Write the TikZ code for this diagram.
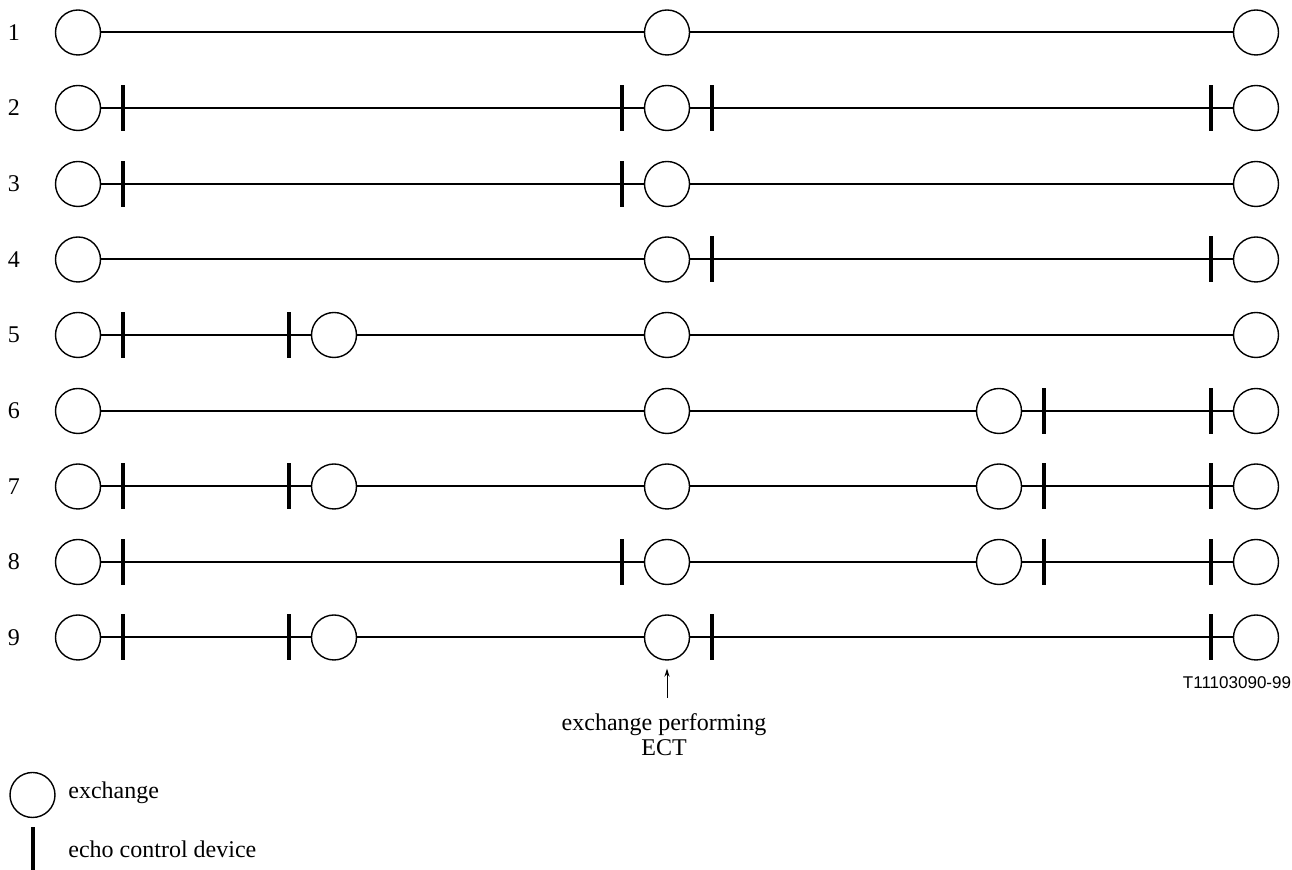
\documentclass[tikz,border=0pt]{standalone}
\usepackage{fontspec}
\setmainfont{Liberation Serif}
\newfontfamily\arialfont{Liberation Sans}
\usetikzlibrary{arrows.meta}
\begin{document}
\begin{tikzpicture}[x=0.5pt,y=-0.5pt,
  exch/.style={circle,draw,line width=0.7pt,minimum size=22.5pt,inner sep=0pt},
  ecd/.style={rectangle,fill=black,minimum width=2pt,minimum height=23pt,inner sep=0pt},
  link/.style={line width=1pt},
  lbl/.style={font=\fontsize{12}{12.5}\selectfont,inner sep=0pt}]
\useasboundingbox (0,0) rectangle (1292,870);
% ---- row 1
\node[lbl] (n1) at (14,32.5) {1};
\node[exch] (c1a) at (78,32.5) {};
\node[exch] (c1c) at (667,32.5) {};
\node[exch] (c1e) at (1256,32.5) {};
\draw[link] (c1a) -- (c1c);
\draw[link] (c1c) -- (c1e);
% ---- row 2
\node[lbl] (n2) at (14,108) {2};
\node[exch] (c2a) at (78,108) {};
\node[exch] (c2c) at (667,108) {};
\node[exch] (c2e) at (1256,108) {};
\node[ecd] (t2a) at (123,108) {};
\node[ecd] (t2b) at (622,108) {};
\node[ecd] (t2c) at (712,108) {};
\node[ecd] (t2d) at (1211,108) {};
\draw[link] (c2a) -- (c2c);
\draw[link] (c2c) -- (c2e);
% ---- row 3
\node[lbl] (n3) at (14,184) {3};
\node[exch] (c3a) at (78,184) {};
\node[exch] (c3c) at (667,184) {};
\node[exch] (c3e) at (1256,184) {};
\node[ecd] (t3a) at (123,184) {};
\node[ecd] (t3b) at (622,184) {};
\draw[link] (c3a) -- (c3c);
\draw[link] (c3c) -- (c3e);
% ---- row 4
\node[lbl] (n4) at (14,259.5) {4};
\node[exch] (c4a) at (78,259.5) {};
\node[exch] (c4c) at (667,259.5) {};
\node[exch] (c4e) at (1256,259.5) {};
\node[ecd] (t4c) at (712,259.5) {};
\node[ecd] (t4d) at (1211,259.5) {};
\draw[link] (c4a) -- (c4c);
\draw[link] (c4c) -- (c4e);
% ---- row 5
\node[lbl] (n5) at (14,335) {5};
\node[exch] (c5a) at (78,335) {};
\node[exch] (c5b) at (334,335) {};
\node[exch] (c5c) at (667,335) {};
\node[exch] (c5e) at (1256,335) {};
\node[ecd] (t5a) at (123,335) {};
\node[ecd] (t5b) at (289,335) {};
\draw[link] (c5a) -- (c5b);
\draw[link] (c5b) -- (c5c);
\draw[link] (c5c) -- (c5e);
% ---- row 6
\node[lbl] (n6) at (14,411) {6};
\node[exch] (c6a) at (78,411) {};
\node[exch] (c6c) at (667,411) {};
\node[exch] (c6d) at (999,411) {};
\node[exch] (c6e) at (1256,411) {};
\node[ecd] (t6c) at (1044,411) {};
\node[ecd] (t6d) at (1211,411) {};
\draw[link] (c6a) -- (c6c);
\draw[link] (c6c) -- (c6d);
\draw[link] (c6d) -- (c6e);
% ---- row 7
\node[lbl] (n7) at (14,486.5) {7};
\node[exch] (c7a) at (78,486.5) {};
\node[exch] (c7b) at (334,486.5) {};
\node[exch] (c7c) at (667,486.5) {};
\node[exch] (c7d) at (999,486.5) {};
\node[exch] (c7e) at (1256,486.5) {};
\node[ecd] (t7a) at (123,486.5) {};
\node[ecd] (t7b) at (289,486.5) {};
\node[ecd] (t7c) at (1044,486.5) {};
\node[ecd] (t7d) at (1211,486.5) {};
\draw[link] (c7a) -- (c7b);
\draw[link] (c7b) -- (c7c);
\draw[link] (c7c) -- (c7d);
\draw[link] (c7d) -- (c7e);
% ---- row 8
\node[lbl] (n8) at (14,562) {8};
\node[exch] (c8a) at (78,562) {};
\node[exch] (c8c) at (667,562) {};
\node[exch] (c8d) at (999,562) {};
\node[exch] (c8e) at (1256,562) {};
\node[ecd] (t8a) at (123,562) {};
\node[ecd] (t8b) at (622,562) {};
\node[ecd] (t8c) at (1044,562) {};
\node[ecd] (t8d) at (1211,562) {};
\draw[link] (c8a) -- (c8c);
\draw[link] (c8c) -- (c8d);
\draw[link] (c8d) -- (c8e);
% ---- row 9
\node[lbl] (n9) at (14,637.5) {9};
\node[exch] (c9a) at (78,637.5) {};
\node[exch] (c9b) at (334,637.5) {};
\node[exch] (c9c) at (667,637.5) {};
\node[exch] (c9e) at (1256,637.5) {};
\node[ecd] (t9a) at (123,637.5) {};
\node[ecd] (t9b) at (289,637.5) {};
\node[ecd] (t9c) at (712,637.5) {};
\node[ecd] (t9d) at (1211,637.5) {};
\draw[link] (c9a) -- (c9b);
\draw[link] (c9b) -- (c9c);
\draw[link] (c9c) -- (c9e);
% ---- annotation
\node[font=\arialfont\fontsize{8.5}{10}\selectfont,inner sep=0pt] (code) at (1237,683) {T11103090-99};
\node[lbl,align=center] (ect) at (664,734.5) {exchange performing\\ECT};
\coordinate (arrtail) at (667,698);
\draw[line width=0.5pt,-{Stealth[length=4pt,width=2.6pt]}] (arrtail) -- (c9c.south) [shorten >=4pt];
% ---- legend
\node[exch] (legc) at (32.5,795) {};
\node[lbl,anchor=west] (legct) at (68,793) {exchange};
\node[ecd,minimum height=21.5pt] (legt) at (32.5,848.5) {};
\node[lbl,anchor=west] (legtt) at (68,849) {echo control device};
\end{tikzpicture}
\end{document}
